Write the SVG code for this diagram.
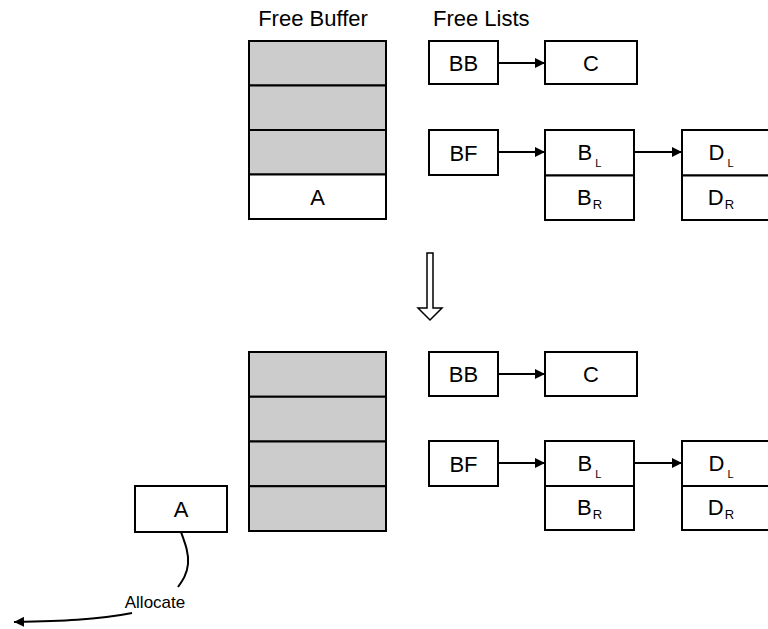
<svg xmlns="http://www.w3.org/2000/svg" width="768" height="629" viewBox="0 0 768 629">
<defs>
<style>
.box{fill:#fff;stroke:#000;stroke-width:2}
.gray{fill:#ccc;stroke:#000;stroke-width:2}
.t{font-family:"Liberation Sans",Arial,sans-serif;font-size:22px;fill:#000;text-anchor:middle}
.sl{font-size:11px}
.sr{font-size:13px}
.lbl{font-family:"Liberation Sans",Arial,sans-serif;font-size:17px;fill:#000;text-anchor:middle}
.conn{fill:none;stroke:#000;stroke-width:2}
</style>
<marker id="ah" viewBox="0 0 10 10" refX="10" refY="5" markerWidth="5" markerHeight="5" markerUnits="strokeWidth" orient="auto">
<path d="M0,0 L10,5 L0,10 z" fill="#000"/>
</marker>
</defs>
<rect width="768" height="629" fill="#fff"/>
<text class="t" x="313" y="26">Free Buffer</text>
<text class="t" x="433" y="26" style="text-anchor:start">Free Lists</text>

<g id="buffer-top">
<rect class="gray" x="249" y="41" width="137" height="44.5"/>
<rect class="gray" x="249" y="85.5" width="137" height="44.5"/>
<rect class="gray" x="249" y="130" width="137" height="44.5"/>
<rect class="box" x="249" y="174.5" width="137" height="44.5"/>
<text class="t" x="317.5" y="205">A</text>
</g>
<g id="bb-top"><rect class="box" x="429" y="41" width="69" height="43"/><text class="t" x="463.5" y="70.5">BB</text></g>
<g id="c-top"><rect class="box" x="545" y="41" width="92" height="43"/><text class="t" x="591" y="70.5">C</text></g>
<g id="bf-top"><rect class="box" x="429" y="130" width="69" height="45"/><text class="t" x="463.5" y="160.5">BF</text></g>
<g id="b-top">
<rect class="box" x="545" y="130" width="89" height="45.5"/><rect class="box" x="545" y="175.5" width="89" height="44.5"/>
<text class="t" x="589.5" y="160">B<tspan class="sl" dx="3" dy="7">L</tspan></text>
<text class="t" x="589.5" y="205">B<tspan class="sr" dx="1" dy="4">R</tspan></text>
</g>
<g id="d-top">
<rect class="box" x="682" y="130" width="90" height="45.5"/><rect class="box" x="682" y="175.5" width="90" height="44.5"/>
<text class="t" x="721" y="160">D<tspan class="sl" dx="3" dy="7">L</tspan></text>
<text class="t" x="721" y="205">D<tspan class="sr" dx="1" dy="4">R</tspan></text>
</g>

<g id="down-arrow">
<path d="M427,253 L433,253 L433,308 L442,308 L430,320 L418,308 L427,308 Z" fill="#fff" stroke="#000" stroke-width="1.5"/>
</g>

<g id="buffer-bottom">
<rect class="gray" x="249" y="352" width="137" height="44.75"/>
<rect class="gray" x="249" y="396.75" width="137" height="44.75"/>
<rect class="gray" x="249" y="441.5" width="137" height="44.75"/>
<rect class="gray" x="249" y="486.25" width="137" height="44.75"/>
</g>
<g id="bb-bottom"><rect class="box" x="429" y="352" width="69" height="44"/><text class="t" x="463.5" y="382">BB</text></g>
<g id="c-bottom"><rect class="box" x="545" y="352" width="92" height="44"/><text class="t" x="591" y="382">C</text></g>
<g id="bf-bottom"><rect class="box" x="429" y="441" width="69" height="45"/><text class="t" x="463.5" y="471.5">BF</text></g>
<g id="b-bottom">
<rect class="box" x="545" y="441" width="89" height="45"/><rect class="box" x="545" y="486" width="89" height="44"/>
<text class="t" x="589.5" y="471">B<tspan class="sl" dx="3" dy="7">L</tspan></text>
<text class="t" x="589.5" y="515">B<tspan class="sr" dx="1" dy="4">R</tspan></text>
</g>
<g id="d-bottom">
<rect class="box" x="682" y="441" width="90" height="45"/><rect class="box" x="682" y="486" width="90" height="44"/>
<text class="t" x="721" y="471">D<tspan class="sl" dx="3" dy="7">L</tspan></text>
<text class="t" x="721" y="515">D<tspan class="sr" dx="1" dy="4">R</tspan></text>
</g>
<g id="a-bottom"><rect class="box" x="135" y="486" width="92" height="46"/><text class="t" x="181" y="517">A</text></g>

<g id="connectors">
<line class="conn" x1="498" y1="63" x2="545" y2="63" marker-end="url(#ah)"/>
<line class="conn" x1="498" y1="152" x2="545" y2="152" marker-end="url(#ah)"/>
<line class="conn" x1="634" y1="152" x2="682" y2="152" marker-end="url(#ah)"/>
<line class="conn" x1="498" y1="374" x2="545" y2="374" marker-end="url(#ah)"/>
<line class="conn" x1="498" y1="463" x2="545" y2="463" marker-end="url(#ah)"/>
<line class="conn" x1="634" y1="463" x2="682" y2="463" marker-end="url(#ah)"/>
<path class="conn" d="M181,532 C185,543 189,553 188,564 C187,574 183,580 178,587"/>
<path class="conn" d="M132,613 C97,620 60,621 14,622" marker-end="url(#ah)"/>
</g>
<text class="lbl" x="155" y="608">Allocate</text>
</svg>
